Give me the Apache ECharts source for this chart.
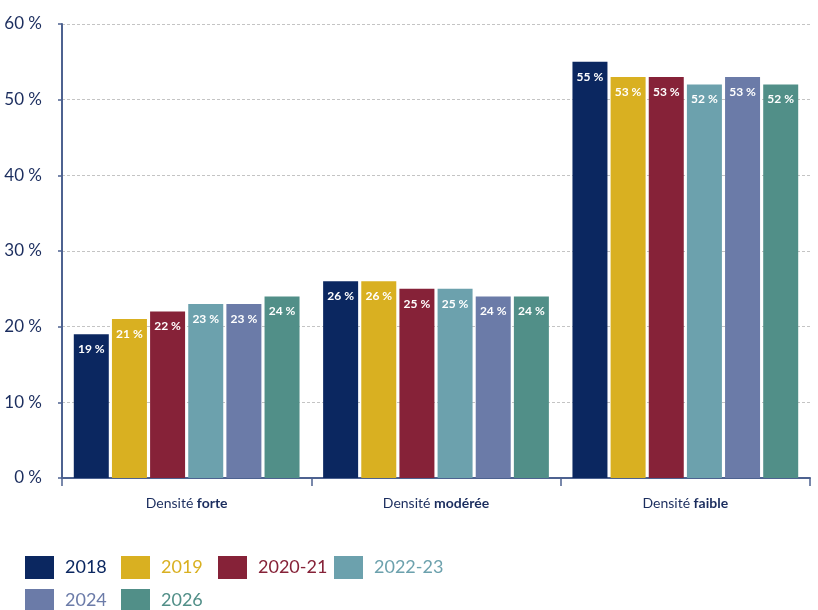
<!DOCTYPE html>
<html>
<head>
<meta charset="utf-8">
<script src="https://cdn.jsdelivr.net/npm/echarts@6/dist/echarts.min.js"></script>
<style>
  html, body { margin: 0; padding: 0; background: #fff; }
  #chart { width: 818px; height: 610px; }
</style>
</head>
<body>
<div id="chart"></div>
<script>
// données
const categories = ['forte', 'modérée', 'faible'];
const years = ['2018', '2019', '2020-21', '2022-23', '2024', '2026'];
const colors = ['#0b2760', '#d9b021', '#862238', '#6ca1ad', '#6b7ba8', '#518f88'];
const v2018 = [19, 26, 55];
const v2019 = [21, 26, 53];
const v2020 = [22, 25, 53];
const v2022 = [23, 25, 52];
const v2024 = [23, 24, 53];
const v2026 = [24, 24, 52];
const yTicks = [0, 10, 20, 30, 40, 50, 60];

const values = [v2018, v2019, v2020, v2022, v2024, v2026];
const font = 'Lato, "Open Sans", sans-serif';
const navy = '#1b2d5e';

let myChart = echarts.init(document.getElementById('chart'));

let series = years.map((y, i) => ({
    name: y,
    type: 'bar',
    barWidth: 35,
    barGap: '9%',
    data: values[i],
    itemStyle: { color: colors[i] },
    label: {
        show: true,
        position: 'insideTop',
        distance: 9,
        color: '#fff',
        fontFamily: font,
        fontWeight: 'bold',
        fontSize: 12,
        formatter: p => p.value + ' %'
    }
}));

// une légende par entrée pour retrouver la disposition de l'original (2 lignes)
const legendPos = [[20, 551], [116, 551], [213, 551], [329, 551], [20, 584], [116, 584]];
let legends = years.map((y, i) => ({
    left: legendPos[i][0],
    top: legendPos[i][1],
    itemWidth: 29,
    itemHeight: 23,
    icon: 'rect',
    data: [y],
    textStyle: { fontFamily: font, fontSize: 18, color: colors[i], padding: [0, 0, 0, 6] }
}));

let options = {
    backgroundColor: '#fff',
    animation: false,
    grid: { left: 62, right: 8, top: 24, bottom: 132 },
    legend: legends,
    xAxis: {
        type: 'category',
        data: categories,
        axisLine: { lineStyle: { color: '#4d6290', width: 2 } },
        axisTick: { show: true, length: 8, lineStyle: { color: '#4d6290', width: 1.5 } },
        axisLabel: {
            margin: 18,
            fontFamily: font,
            fontSize: 14,
            color: navy,
            formatter: v => 'Densité {b|' + v + '}',
            rich: { b: { fontFamily: font, fontSize: 14, fontWeight: 'bold', color: navy } }
        }
    },
    yAxis: {
        type: 'value',
        min: 0,
        max: 60,
        interval: 10,
        axisLine: { show: true, lineStyle: { color: '#4d6290', width: 2 } },
        axisTick: { show: true, length: 4, lineStyle: { color: '#4d6290', width: 1.5 } },
        splitLine: { lineStyle: { color: '#c4c4c4', type: [3, 2], width: 1 } },
        axisLabel: {
            margin: 20,
            fontFamily: font,
            fontSize: 17,
            color: navy,
            formatter: v => yTicks.includes(v) ? v + ' %' : ''
        }
    },
    series: series
};

myChart.setOption(options);
</script>
</body>
</html>
